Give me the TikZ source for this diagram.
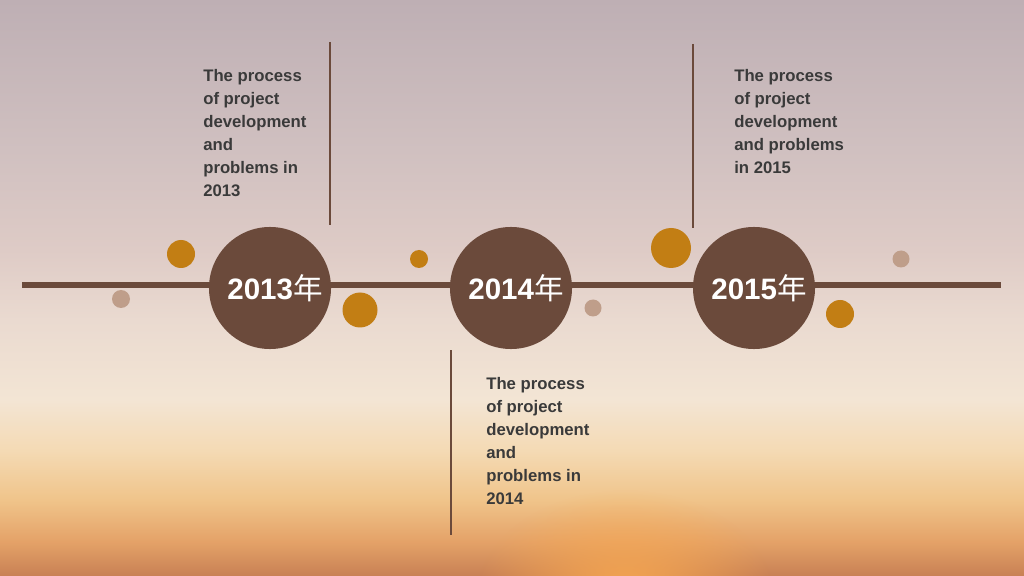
\documentclass[tikz,border=0pt]{standalone}
\usepackage{fontspec}
\setmainfont{Liberation Sans}
\newfontfamily\cjk{Noto Sans CJK SC}
\usetikzlibrary{fadings}

\definecolor{barbrown}{HTML}{6B4A3B}
\definecolor{dotorange}{HTML}{C27E14}
\definecolor{dottan}{HTML}{BF9E8A}
\definecolor{txtgrey}{HTML}{3A3A3A}
\definecolor{sunglow}{RGB}{250,170,80}
\definecolor{skyA}{RGB}{200,128,84}
\definecolor{skyB}{RGB}{228,162,104}
\definecolor{skyC}{RGB}{240,196,138}
\definecolor{skyD}{RGB}{244,218,180}
\definecolor{skyE}{RGB}{243,229,212}
\definecolor{skyF}{RGB}{234,218,208}
\definecolor{skyG}{RGB}{222,203,198}
\definecolor{skyH}{RGB}{208,192,192}
\definecolor{skyI}{RGB}{190,175,180}

\pgfdeclareverticalshading{sky}{100bp}{color(0bp)=(skyA); color(25bp)=(skyA);
  color(28bp)=(skyB); color(31.6bp)=(skyC); color(35.9bp)=(skyD);
  color(40.3bp)=(skyE); color(47.2bp)=(skyF); color(53.3bp)=(skyG);
  color(62bp)=(skyH); color(75bp)=(skyI); color(100bp)=(skyI)}

\tikzfading[name=sunfade, inner color=transparent!0, outer color=transparent!100]

\tikzset{
  year/.style={circle, fill=barbrown, minimum size=3.05cm, inner sep=0pt,
    text=white, font=\fontsize{21}{24}\selectfont\bfseries},
  bigdot/.style={fill=dotorange},
  smalldot/.style={fill=dottan},
  stem/.style={draw=barbrown, line width=1.1pt},
  note/.style={anchor=north west, align=left, inner sep=0pt, text=txtgrey,
    font=\fontsize{11.9}{16.4}\selectfont\bfseries}
}

\begin{document}
\begin{tikzpicture}[x=0.025cm, y=-0.025cm]
  % sky
  \useasboundingbox (0,0) rectangle (1024,576);
  \fill[shading=sky] (0,0) rectangle (1024,576);
  \fill[sunglow, path fading=sunfade] (625,600) ellipse (150 and 110);

  % timeline
  \coordinate (lstart) at (22,285);
  \coordinate (lend) at (1001,285);
  \draw[barbrown, line width=4.3pt] (lstart) -- (lend);

  % dots
  \fill[bigdot] (181,254) circle (14);
  \fill[smalldot] (121,299) circle (9);
  \fill[bigdot] (360,310) circle (17.5);
  \fill[bigdot] (419,259) circle (9);
  \fill[smalldot] (593,308) circle (8.5);
  \fill[bigdot] (671,248) circle (20);
  \fill[bigdot] (840,314) circle (14);
  \fill[smalldot] (901,259) circle (8.5);

  % years
  \node[year] (y13) at (270,288) {\kern0.25cm 2013{\cjk\mdseries 年}};
  \node[year] (y14) at (511,288) {\kern0.25cm 2014{\cjk\mdseries 年}};
  \node[year] (y15) at (754,288) {\kern0.25cm 2015{\cjk\mdseries 年}};

  % stems
  \coordinate (s13a) at (330,42);
  \coordinate (s13b) at (330,225);
  \coordinate (s14a) at (451,350);
  \coordinate (s14b) at (451,535);
  \coordinate (s15a) at (693,44);
  \coordinate (s15b) at (693,228);
  \draw[stem] (s13a) -- (s13b);
  \draw[stem] (s14a) -- (s14b);
  \draw[stem] (s15a) -- (s15b);

  % notes
  \node[note] (n13) at (203,69) {The process\\of project\\development\\and\\problems in\\2013};
  \node[note] (n14) at (486,377) {The process\\of project\\development\\and\\problems in\\2014};
  \node[note] (n15) at (734,69) {The process\\of project\\development\\and problems\\in 2015};
\end{tikzpicture}
\end{document}
